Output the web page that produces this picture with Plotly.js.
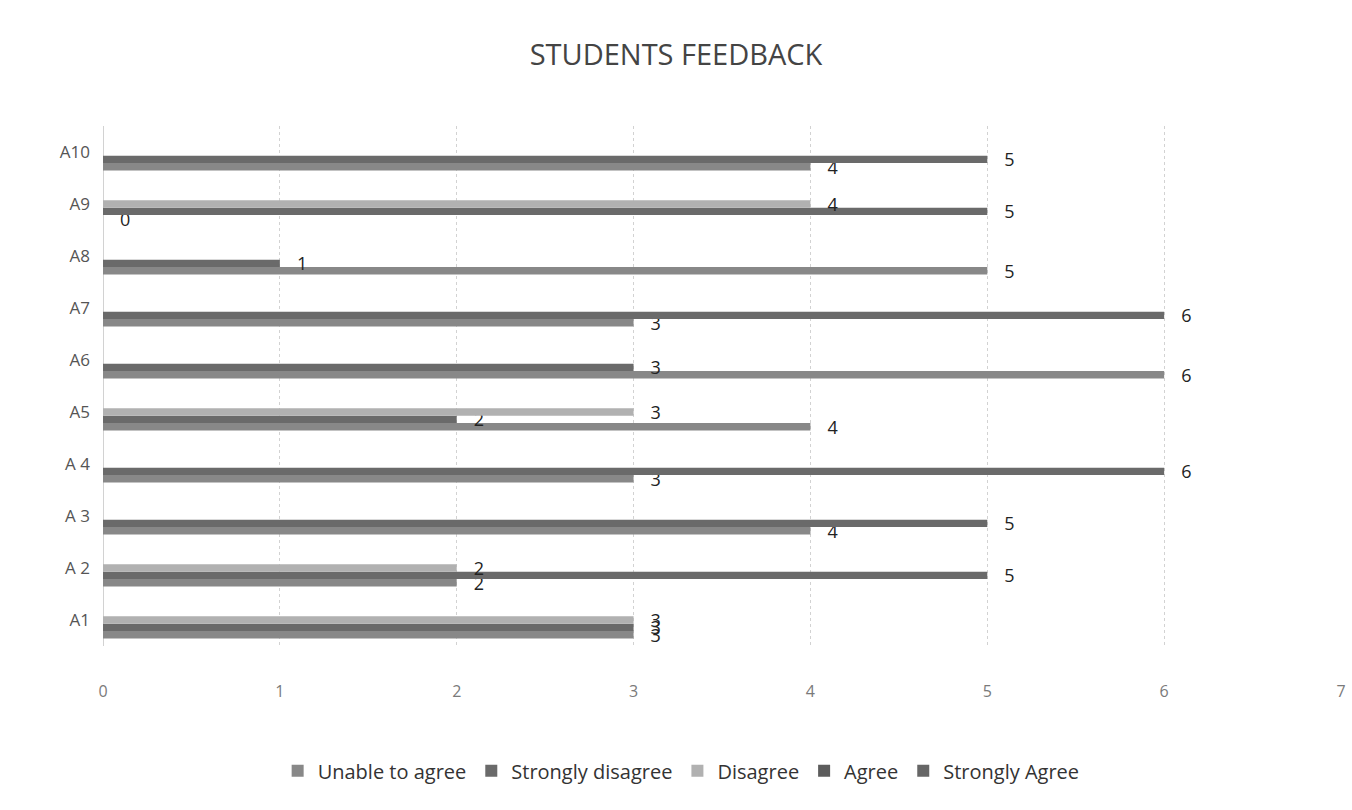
<!DOCTYPE html>
<html>
<head>
<meta charset="utf-8">
<script src="https://cdn.plot.ly/plotly-3.0.1.min.js"></script>
<style>
  html, body { margin: 0; padding: 0; background: #ffffff; }
  #chart { width: 1352px; height: 810px; }
</style>
</head>
<body>
<div id="chart"></div>
<script>
// Categories (bottom to top)
const categories = ["A1", "A 2", "A 3", "A 4", "A5", "A6", "A7", "A8", "A9", "A10"];

// Series values (null = no bar drawn)
const unableToAgree     = [3, 2, 4, 3, 4, 6, 3, 5, 0, 4];
const stronglyDisagree  = [3, 5, 5, 6, 2, 3, 6, 1, 5, 5];
const disagree          = [3, 2, null, null, 3, null, null, null, 4, null];
const agree             = [null, null, null, null, null, null, null, null, null, null];
const stronglyAgree     = [null, null, null, null, null, null, null, null, null, null];

const seriesNames  = ["Unable to agree", "Strongly disagree", "Disagree", "Agree", "Strongly Agree"];
const seriesValues = [unableToAgree, stronglyDisagree, disagree, agree, stronglyAgree];
const seriesColors = ["#888888", "#6a6a6a", "#b1b1b1", "#5c5c5c", "#666666"];

const xTicks = [0, 1, 2, 3, 4, 5, 6, 7];

const FONT = "'Open Sans', 'Noto Sans', sans-serif";

const traces = seriesNames.map((name, i) => ({
  type: "bar",
  orientation: "h",
  name: name,
  y: categories,
  x: seriesValues[i],
  marker: { color: seriesColors[i], line: { width: 0 } },
  text: seriesValues[i].map(v => (v === null ? "" : String(v))),
  texttemplate: "   %{text}",
  textposition: "outside",
  constraintext: "none",
  cliponaxis: false,
  textfont: { family: FONT, size: 18, color: "#222222" },
  hoverinfo: "x+y+name"
}));

const layout = {
  width: 1352,
  height: 810,
  paper_bgcolor: "#ffffff",
  plot_bgcolor: "#ffffff",
  barmode: "group",
  bargap: 0.29,
  bargroupgap: 0,
  margin: { l: 103, r: 11, t: 126, b: 164 },
  title: {
    text: "STUDENTS FEEDBACK",
    font: { family: FONT, size: 29, color: "#444444" },
    x: 0.5, xanchor: "center",
    y: 0.932, yanchor: "middle"
  },
  xaxis: {
    range: [0, 7],
    tickvals: xTicks,
    ticktext: xTicks.map(String),
    showgrid: true,
    gridcolor: "#d2d2d2",
    griddash: "dot",
    gridwidth: 1,
    zeroline: true,
    zerolinecolor: "#d2d2d2",
    zerolinewidth: 1,
    showline: false,
    ticks: "",
    ticklabelstandoff: 34,
    tickfont: { family: FONT, size: 16, color: "#7a7a7a" },
    fixedrange: true
  },
  yaxis: {
    type: "category",
    categoryorder: "array",
    categoryarray: categories,
    showgrid: false,
    zeroline: false,
    showline: false,
    ticks: "",
    ticklabelstandoff: 12,
    tickfont: { family: FONT, size: 17, color: "#555555" },
    fixedrange: true
  },
  legend: {
    orientation: "h",
    traceorder: "normal",
    x: 0.467, xanchor: "center",
    y: -0.24, yanchor: "middle",
    font: { family: FONT, size: 20, color: "#333333" },
    itemwidth: 30
  },
  showlegend: true
};

Plotly.newPlot("chart", traces, layout, { displayModeBar: false, staticPlot: true });
</script>
</body>
</html>
